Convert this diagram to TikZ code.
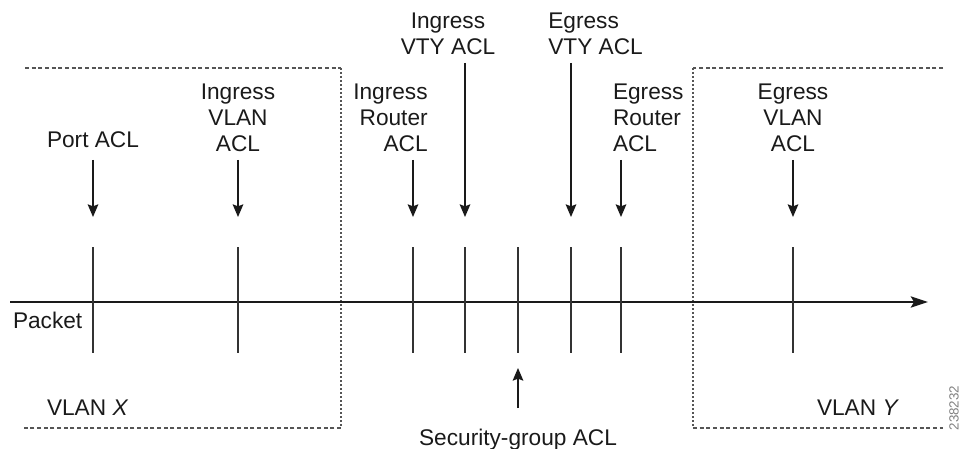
\documentclass[tikz,border=0pt]{standalone}
\usepackage{fontspec}
\setmainfont{Liberation Sans}
\usepackage{tikz}
\usetikzlibrary{arrows.meta,positioning}
\definecolor{cInk}{HTML}{1A1A1A}
\definecolor{cRule}{HTML}{333333}
\definecolor{cBorder}{HTML}{555555}
\definecolor{cGray}{HTML}{808080}
\tikzset{
  lbl/.style={font=\fontsize{17}{19.5}\selectfont,text=cInk,inner sep=0pt,outer sep=0pt},
  tick/.style={draw=cRule,line width=1pt},
  arr/.style={-{Stealth[length=9.5pt,width=8pt,inset=1.5pt]},line width=1pt,color=cInk},
  wire/.style={-{Stealth[length=13pt,width=8.5pt,inset=2.5pt]},line width=1pt,color=cInk},
  hdash/.style={draw=cBorder,line width=0.9pt,dash pattern=on 3pt off 2pt},
  vdot/.style={draw=cBorder,line width=1.2pt,dash pattern=on 1.5pt off 1.5pt},
}

\begin{document}
\begin{tikzpicture}[x=0.75pt,y=-0.75pt]
  \useasboundingbox (0,0) rectangle (964,449);
  % VLAN X box
  \coordinate (xa) at (25,68); \coordinate (xb) at (341,68);
  \coordinate (xc) at (341,428); \coordinate (xd) at (22,428);
  \draw[hdash] (xa) -- (xb); \draw[vdot] (xb) -- (xc); \draw[hdash] (xc) -- (xd);
  % VLAN Y box
  \coordinate (ya) at (943,68); \coordinate (yb) at (693,68);
  \coordinate (yc) at (693,428); \coordinate (yd) at (943,428);
  \draw[hdash] (ya) -- (yb); \draw[vdot] (yb) -- (yc); \draw[hdash] (yc) -- (yd);
  % packet path
  \coordinate (pin) at (10,302); \coordinate (pout) at (928,302);
  \draw[wire] (pin) -- (pout);
  \foreach \x [count=\i] in {93,238,413,465,518,571,621,793}{
    \coordinate (h\i) at (\x,217);
    \draw[tick] (\x,247) -- (\x,353);
  }
  % arrow tails
  \foreach \i/\y in {1/160,2/160,3/160,4/63,6/63,7/160,8/160}{
    \coordinate (a\i) at (h\i |- 0,\y);
  }
  % labels
  \node[lbl,align=center,above=9pt of a1] (port) {Port ACL};
  \node[lbl,align=center,above=6pt of a2] (invlan) {Ingress\\VLAN\\ACL};
  \node[lbl,align=right,anchor=south east] (inrtr) at ([xshift=11pt,yshift=6pt]a3) {Ingress\\Router\\ACL};
  \node[lbl,align=center,anchor=south] (invty) at ([xshift=-12.75pt,yshift=6pt]a4) {Ingress\\VTY ACL};
  \node[lbl,align=left,anchor=south west] (egvty) at ([xshift=-17pt,yshift=6pt]a6) {Egress\\VTY ACL};
  \node[lbl,align=left,anchor=south west] (egrtr) at ([xshift=-6pt,yshift=6pt]a7) {Egress\\Router\\ACL};
  \node[lbl,align=center,above=6pt of a8] (egvlan) {Egress\\VLAN\\ACL};
  \foreach \i in {1,2,3,4,6,7,8}{\draw[arr] (a\i) -- (h\i);}
  % security group
  \coordinate (a5) at (518,408); \coordinate (u5) at (518,368);
  \draw[arr] (a5) -- (u5);
  \node[lbl,anchor=base] (secacl) at (518,445) {Security-group ACL};
  \node[lbl,anchor=base west] (packet) at (13,328) {Packet};
  \node[lbl,anchor=base west] (vlanx) at (47,415) {VLAN \textit{X}};
  \node[lbl,anchor=base west] (vlany) at (817,415) {VLAN \textit{Y}};
  \node[font=\fontsize{10}{11}\selectfont,text=cGray,rotate=90,inner sep=0pt] (fignum) at (954,408) {238232};
\end{tikzpicture}
\end{document}
